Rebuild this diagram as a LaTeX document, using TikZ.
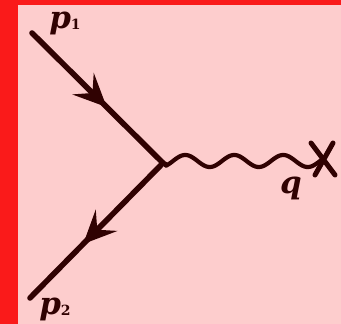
\documentclass[tikz,border=0pt]{standalone}
\usepackage{fontspec}
\setmainfont{DejaVu Serif}
\usetikzlibrary{arrows.meta,decorations.markings}
\definecolor{bandred}{RGB}{250,26,26}
\definecolor{paper}{RGB}{253,205,205}
\definecolor{ink}{RGB}{48,2,2}
\newcommand{\lbl}[2]{\textbf{\textit{#1}}\raisebox{-1pt}{\fontsize{14}{14}\selectfont\bfseries #2}}
\begin{document}
\begin{tikzpicture}[x=1pt,y=-1pt,
  fermion/.style={draw=ink,line width=5.6pt,line cap=round},
  photon/.style={draw=ink,line width=4.2pt,line cap=round},
  cross/.style={draw=ink,line width=5pt,line cap=round},
  lab/.style={text=ink,font=\fontsize{31}{35}\selectfont,inner sep=0pt},
  midarrow/.style={postaction={decorate},decoration={markings,
    mark=at position #1 with {\arrow{Stealth[length=33pt,width=30pt,inset=13pt,fill=ink,color=ink]}}}}]
\useasboundingbox (0,0) rectangle (341,324);
\fill[paper] (0,0) rectangle (341,324);
\fill[bandred] (0,0) rectangle (17.5,324);
\fill[bandred] (0,0) rectangle (341,5);
\coordinate (a) at (32,33);
\coordinate (v) at (163,163);
\coordinate (b) at (30,298);
\coordinate (x) at (323,160);
\draw[fermion,midarrow=0.57] (a) -- (v);
\draw[fermion,midarrow=0.6] (v) -- (b);
\draw[photon] (v) -- (166,164)
  plot[domain=166:321,samples=140,smooth] (\x,{161-6*sin((\x-173)/49*360)}) -- (x);
\draw[cross] (311,143) -- (335,175);
\draw[cross] (333,143) -- (315,175);
\node[lab] (p1) at (65,23) {\lbl{p}{1}};
\node[lab] (p2) at (55,309) {\lbl{p}{2}};
\node[lab] (q) at (291,188) {\textbf{\textit{q}}};
\end{tikzpicture}
\end{document}
